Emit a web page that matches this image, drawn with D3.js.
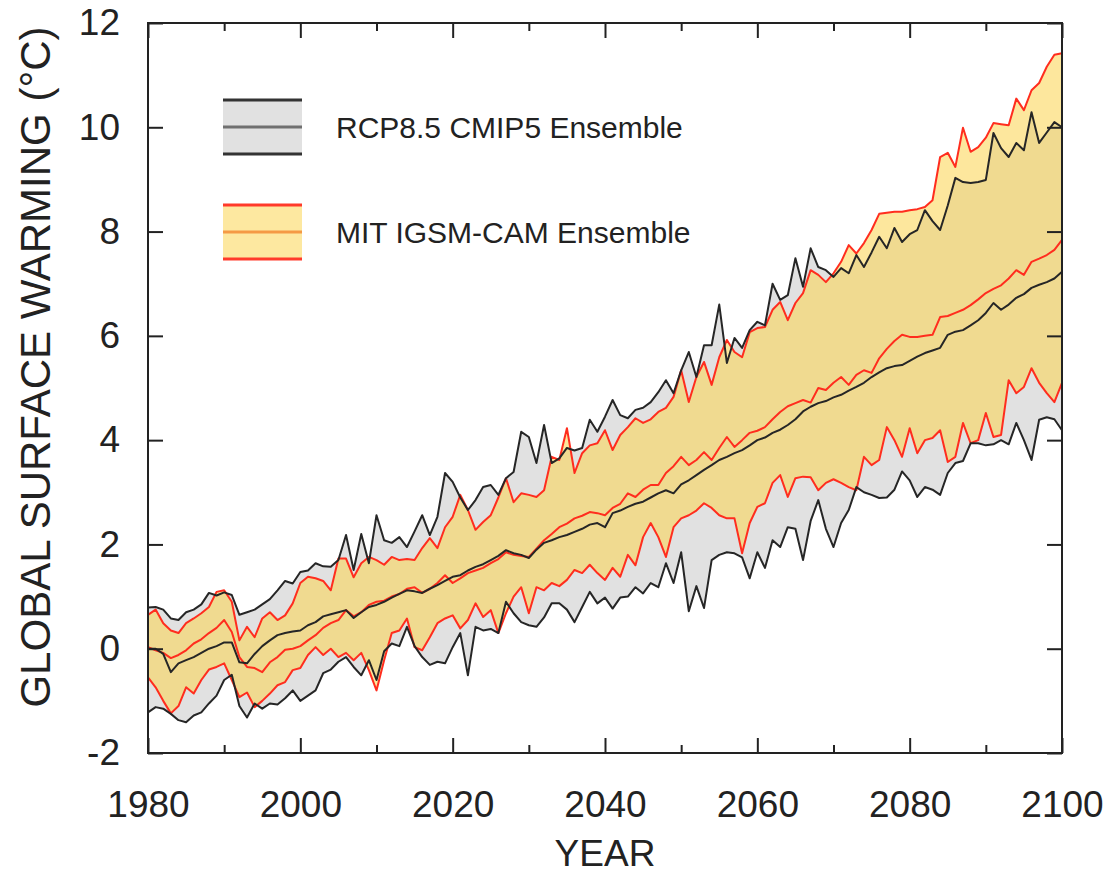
<!DOCTYPE html>
<html>
<head>
<meta charset="utf-8">
<script src="https://cdn.jsdelivr.net/npm/d3@7"></script>
<style>
  body { margin: 0; background: #fff; }
  svg text { font-family: "Liberation Sans", Arial, Helvetica, sans-serif; fill: #222; }
</style>
</head>
<body>
<div class="chart"></div>
<script>
//Data: annual values 1980-2100 (deg C)
var startYear = 1980;

var cmipHi = [0.79,0.80,0.75,0.58,0.55,0.70,0.75,0.85,1.07,1.02,1.08,1.03,0.65,0.70,0.75,0.85,0.95,1.12,1.30,1.25,
  1.47,1.50,1.64,1.58,1.57,1.70,2.18,1.51,2.20,1.64,2.56,2.08,2.03,2.14,1.95,2.25,2.56,2.18,2.53,3.37,
  3.20,2.90,2.66,2.85,3.10,3.14,2.95,3.27,3.39,4.16,4.06,3.56,4.29,3.56,3.65,3.85,3.80,3.85,4.39,4.16,
  4.45,4.77,4.48,4.42,4.58,4.62,4.73,4.92,5.15,4.90,5.34,5.69,5.21,5.82,5.82,6.60,5.48,5.96,5.77,6.11,
  6.27,6.20,7.00,6.69,6.78,7.49,6.94,7.68,7.32,7.26,7.13,7.30,7.20,7.55,7.32,7.60,7.90,7.68,8.07,7.80,
  7.95,8.03,8.41,8.20,8.03,8.50,9.03,8.95,8.93,8.95,8.99,9.89,9.60,9.43,9.70,9.56,10.29,9.70,9.90,10.10,10.00];

var cmipMed = [0.00,0.00,-0.10,-0.45,-0.28,-0.22,-0.16,-0.08,0.00,0.05,0.12,0.12,-0.26,-0.28,-0.10,0.05,0.16,0.26,0.30,0.33,
  0.35,0.45,0.51,0.62,0.66,0.70,0.74,0.59,0.70,0.80,0.84,0.90,0.98,1.05,1.12,1.10,1.07,1.15,1.22,1.30,
  1.38,1.41,1.50,1.57,1.62,1.70,1.78,1.89,1.83,1.80,1.74,1.90,2.03,2.08,2.14,2.18,2.24,2.30,2.38,2.41,
  2.33,2.60,2.65,2.72,2.78,2.82,2.90,2.98,3.04,2.98,3.15,3.23,3.33,3.43,3.52,3.62,3.68,3.75,3.81,3.90,
  4.00,4.05,4.14,4.20,4.29,4.40,4.55,4.64,4.71,4.75,4.82,4.87,4.95,5.02,5.10,5.21,5.30,5.38,5.42,5.44,
  5.52,5.60,5.67,5.72,5.77,6.02,6.08,6.11,6.20,6.30,6.44,6.63,6.50,6.60,6.73,6.80,6.92,6.98,7.03,7.10,7.23];

var cmipLo = [-1.22,-1.12,-1.15,-1.25,-1.37,-1.41,-1.28,-1.22,-1.05,-0.90,-0.60,-0.50,-1.10,-1.32,-1.05,-1.15,-1.05,-1.07,-0.95,-0.80,
  -1.00,-0.90,-0.80,-0.47,-0.40,-0.25,-0.16,-0.35,-0.51,-0.22,-0.60,-0.05,0.10,0.05,0.42,0.05,-0.16,-0.31,-0.25,-0.28,
  0.03,0.30,-0.51,0.42,0.35,0.38,0.30,0.90,0.68,0.51,0.45,0.42,0.60,0.87,0.87,0.75,0.51,0.80,1.09,0.87,
  0.98,0.77,0.98,1.00,1.18,1.06,1.26,1.18,1.64,1.26,1.85,0.72,1.20,0.78,1.70,1.80,1.85,1.83,1.75,1.35,
  1.85,1.55,2.08,1.95,2.33,2.30,1.70,2.45,2.85,2.30,1.95,2.41,2.66,3.10,3.00,2.95,2.89,2.90,3.05,3.40,
  3.23,2.91,3.10,3.05,2.95,3.37,3.56,3.60,3.94,3.94,3.90,3.92,4.00,3.92,4.33,4.00,3.62,4.39,4.44,4.40,4.19];

var mitHi = [0.65,0.75,0.49,0.35,0.30,0.49,0.58,0.68,0.80,1.09,1.12,0.90,0.16,0.42,0.22,0.58,0.70,0.55,0.64,0.87,
  1.26,1.38,1.35,1.30,1.12,1.73,1.73,1.37,1.64,1.76,1.70,1.61,1.76,1.70,1.72,1.70,1.93,2.12,1.93,2.33,
  2.53,2.95,2.66,2.28,2.43,2.56,2.90,3.27,2.81,2.98,2.95,2.91,3.04,3.68,3.62,4.23,3.37,3.75,3.90,3.94,
  4.19,3.81,4.10,4.25,4.42,4.33,4.40,4.54,4.62,4.83,5.34,4.73,5.21,5.50,5.06,5.59,5.92,5.69,5.59,6.07,
  6.15,6.17,6.50,6.65,6.30,6.63,6.82,7.26,7.17,7.03,7.20,7.42,7.74,7.58,7.78,8.03,8.34,8.36,8.38,8.38,
  8.41,8.43,8.47,8.60,9.43,9.51,9.24,9.99,9.53,9.62,9.80,10.08,10.06,10.04,10.55,10.33,10.71,10.85,11.16,11.39,11.42];

var mitMed = [0.03,-0.03,-0.08,-0.18,-0.12,-0.03,0.10,0.18,0.30,0.40,0.55,0.32,-0.16,-0.35,-0.37,-0.45,-0.26,-0.16,-0.02,0.00,
  0.05,0.16,0.26,0.40,0.49,0.55,0.74,0.62,0.70,0.84,0.90,0.92,1.00,1.05,1.15,1.18,1.07,1.15,1.26,1.41,
  1.26,1.35,1.45,1.50,1.55,1.64,1.72,1.85,1.80,1.78,1.76,1.92,2.08,2.20,2.33,2.40,2.50,2.55,2.62,2.60,
  2.56,2.70,2.78,2.98,2.91,3.05,3.14,3.14,3.37,3.50,3.68,3.52,3.62,3.77,3.62,3.85,4.06,3.87,4.00,4.14,
  4.18,4.25,4.40,4.54,4.65,4.71,4.77,4.72,5.00,4.96,5.10,5.21,5.06,5.25,5.34,5.29,5.57,5.75,5.90,6.02,
  5.98,5.98,6.00,6.02,6.36,6.38,6.44,6.50,6.59,6.70,6.82,6.90,6.97,7.10,7.26,7.17,7.42,7.48,7.55,7.65,7.84];

var mitLo = [-0.55,-0.74,-1.00,-1.24,-1.10,-0.74,-0.86,-0.60,-0.40,-0.35,-0.28,-0.60,-0.93,-0.84,-1.12,-1.00,-0.86,-0.70,-0.64,-0.41,
  -0.37,-0.12,0.03,-0.12,0.00,-0.16,-0.08,-0.22,-0.08,-0.41,-0.80,-0.22,0.30,0.35,0.58,0.03,-0.03,0.22,0.49,0.58,
  0.64,0.39,0.55,0.87,0.61,0.74,0.30,0.68,1.00,1.18,0.68,1.18,1.12,1.26,1.20,1.32,1.51,1.45,1.61,1.45,
  1.32,1.55,1.38,1.80,1.60,2.14,2.41,2.14,1.76,2.33,2.50,2.56,2.65,2.79,2.70,2.56,2.50,2.50,1.83,2.41,
  2.72,2.79,3.18,3.33,2.91,3.27,3.30,3.29,3.04,3.18,3.25,3.18,3.10,3.04,3.68,3.52,3.62,4.25,4.00,3.68,
  4.23,3.75,4.00,4.04,4.19,3.58,3.68,4.33,3.94,4.00,4.52,4.06,4.10,5.15,4.90,5.02,5.38,5.10,4.90,4.73,5.10];

var yTicks = [-2, 0, 2, 4, 6, 8, 10, 12];
var xMajor = [1980, 2000, 2020, 2040, 2060, 2080, 2100];
var xMinor = [1990, 2010, 2030, 2050, 2070, 2090];
var legendLabels = ["RCP8.5 CMIP5 Ensemble", "MIT IGSM-CAM Ensemble"];

//Width and height
var w = 1113;
var h = 874;
var plotL = 148, plotR = 1062, plotT = 23, plotB = 753;

var svg = d3.select(".chart")
    .append("svg")
    .attr("width", w)
    .attr("height", h);

//Scales
var x = d3.scaleLinear().domain([1980, 2100]).range([plotL, plotR]);
var y = d3.scaleLinear().domain([-2, 12]).range([plotB, plotT]);

//Build rows
var rows = cmipHi.map((v, i) => ({
    year: startYear + i,
    cHi: v, cMed: cmipMed[i], cLo: cmipLo[i],
    mHi: mitHi[i], mMed: mitMed[i], mLo: mitLo[i]
}));

var plot = svg.append("g");

//Bands
plot.append("path")
    .datum(rows)
    .attr("fill", "#e1e1e1")
    .attr("d", d3.area().x(d => x(d.year)).y0(d => y(d.cLo)).y1(d => y(d.cHi)));

plot.append("path")
    .datum(rows)
    .attr("fill", "rgb(251,214,86)")
    .attr("fill-opacity", 0.58)
    .attr("d", d3.area().x(d => x(d.year)).y0(d => y(d.mLo)).y1(d => y(d.mHi)));

//Lines
function drawLine(key, color) {
    plot.append("path")
        .datum(rows)
        .attr("fill", "none")
        .attr("stroke", color)
        .attr("stroke-width", 2)
        .attr("stroke-linejoin", "round")
        .attr("d", d3.line().x(d => x(d.year)).y(d => y(d[key])));
}
["mHi", "mMed", "mLo"].forEach(k => drawLine(k, "#ff2d1e"));
["cHi", "cMed", "cLo"].forEach(k => drawLine(k, "#262626"));

//Frame and inward ticks
var axisColor = "#222";
svg.append("rect")
    .attr("x", plotL).attr("y", plotT)
    .attr("width", plotR - plotL).attr("height", plotB - plotT)
    .attr("fill", "none").attr("stroke", axisColor).attr("stroke-width", 2);

function styleTicks(g) {
    g.select(".domain").remove();
    g.selectAll("line").attr("stroke", axisColor).attr("stroke-width", 2);
}

svg.append("g")
    .attr("transform", "translate(0," + plotB + ")")
    .call(d3.axisBottom(x).tickValues(xMajor).tickSize(-15).tickFormat(d => String(d)).tickPadding(38))
    .call(styleTicks)
    .call(g => g.selectAll("text").attr("font-size", 37).attr("fill", "#222"));

svg.append("g")
    .attr("transform", "translate(0," + plotB + ")")
    .call(d3.axisBottom(x).tickValues(xMinor).tickSize(-8).tickFormat(""))
    .call(styleTicks);

svg.append("g")
    .attr("transform", "translate(0," + plotT + ")")
    .call(d3.axisTop(x).tickValues(xMajor).tickSize(-15).tickFormat(""))
    .call(styleTicks);

svg.append("g")
    .attr("transform", "translate(0," + plotT + ")")
    .call(d3.axisTop(x).tickValues(xMinor).tickSize(-8).tickFormat(""))
    .call(styleTicks);

svg.append("g")
    .attr("transform", "translate(" + plotL + ",0)")
    .call(d3.axisLeft(y).tickValues(yTicks).tickSize(-15).tickPadding(28).tickFormat(d => String(d)))
    .call(styleTicks)
    .call(g => g.selectAll("text").attr("font-size", 37).attr("fill", "#222"));

svg.append("g")
    .attr("transform", "translate(" + plotR + ",0)")
    .call(d3.axisRight(y).tickValues(yTicks).tickSize(-15).tickFormat(""))
    .call(styleTicks);

//Axis titles
svg.append("text")
    .attr("x", (plotL + plotR) / 2)
    .attr("y", 866)
    .attr("text-anchor", "middle")
    .attr("font-size", 37)
    .text("YEAR");

svg.append("text")
    .attr("transform", "translate(50,367) rotate(-90)")
    .attr("text-anchor", "middle")
    .attr("font-size", 42)
    .text("GLOBAL SURFACE WARMING (°C)");

//Legend
var legend = svg.append("g").attr("id", "legend");
var keys = [
    { fill: "#e1e1e1", edge: "#333", mid: "#707070", cy: 127 },
    { fill: "#fde8a0", edge: "#ff3a2a", mid: "#f59a45", cy: 232 }
];
keys.forEach((k, i) => {
    legend.append("rect")
        .attr("x", 223).attr("y", k.cy - 27)
        .attr("width", 79).attr("height", 54)
        .attr("fill", k.fill);
    [-27, 0, 27].forEach(off => {
        legend.append("line")
            .attr("x1", 223).attr("x2", 302)
            .attr("y1", k.cy + off).attr("y2", k.cy + off)
            .attr("stroke", off === 0 ? k.mid : k.edge)
            .attr("stroke-width", 3);
    });
    legend.append("text")
        .attr("x", 336).attr("y", k.cy + 11)
        .attr("font-size", 30)
        .attr("fill", "#333")
        .text(legendLabels[i]);
});
</script>
</body>
</html>
